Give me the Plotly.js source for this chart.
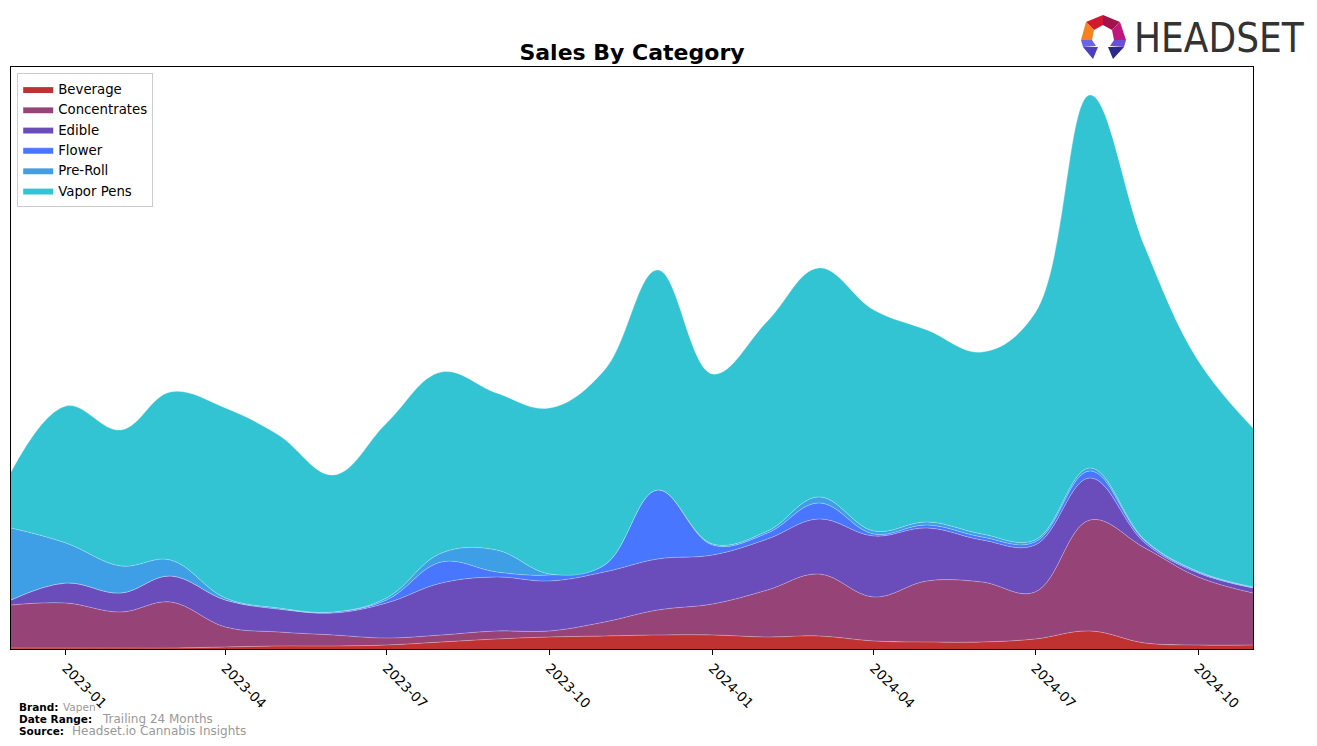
<!DOCTYPE html>
<html>
<head>
<meta charset="utf-8">
<script src="https://cdn.plot.ly/plotly-3.0.1.min.js"></script>
<style>
html,body{margin:0;padding:0;background:#fff;}
#chart{width:1317px;height:746px;}
</style>
</head>
<body>
<div id="chart"></div>
<script>
// Monthly data (relative sales units)
const months = ['2022-12-01','2023-01-01','2023-02-01','2023-03-01','2023-04-01','2023-05-01','2023-06-01','2023-07-01','2023-08-01','2023-09-01','2023-10-01','2023-11-01','2023-12-01','2024-01-01','2024-02-01','2024-03-01','2024-04-01','2024-05-01','2024-06-01','2024-07-01','2024-08-01','2024-09-01','2024-10-01','2024-11-01'];
const beverage     = [1, 1, 1, 1, 2, 3, 3, 4, 7, 10, 12, 13, 14, 14, 12, 13, 8, 7, 7, 10, 18, 6, 4, 4];
const concentrates = [43, 45, 36, 46, 20, 14, 11, 7, 7, 8, 6, 14, 25, 31, 47, 62, 44, 61, 60, 47, 111, 95, 68, 52];
const edible       = [5, 20, 19, 26, 27, 23, 22, 35, 52, 54, 50, 50, 51, 49, 51, 55, 61, 53, 42, 47, 42, 5, 4, 5];
const flower       = [0, 0, 0, 0, 0, 0, 1, 3, 21, 5, 6, 7, 69, 10, 6, 16, 2, 3, 3, 3, 7, 2, 1, 0.5];
const preRoll      = [72, 40, 27, 16, 2, 1, 0, 2, 9, 22, 1, 0, 0, 1, 2, 6, 3, 3, 3, 2, 3, 1, 0.5, 0.5];
const vaporPens    = [56, 137, 136, 168, 190, 173, 137, 175, 181, 157, 166, 195, 220, 170, 210, 229, 221, 192, 182, 227, 373, 293, 211, 159];

const categories = ['Beverage','Concentrates','Edible','Flower','Pre-Roll','Vapor Pens'];
const seriesList = [beverage, concentrates, edible, flower, preRoll, vaporPens];
const colors = ['#C03131','#964378','#6A4DBA','#4876FF','#3E9EE6','#33C4D3'];

const tickVals = ['2023-01-01','2023-04-01','2023-07-01','2023-10-01','2024-01-01','2024-04-01','2024-07-01','2024-10-01'];
const tickText = ['2023-01','2023-04','2023-07','2023-10','2024-01','2024-04','2024-07','2024-10'];

const traces = categories.map((name, i) => ({
  type: 'scatter',
  mode: 'lines',
  name: name,
  x: months,
  y: seriesList[i],
  stackgroup: 'one',
  line: {shape: 'spline', smoothing: 1.1, width: 0.8, color: 'rgba(255,255,255,0.35)'},
  fillcolor: colors[i],
  hoverinfo: 'x+y+name'
}));

// pixel -> paper helper for decorative items (plot area: x 11..1253, y 67..649)
function P(px, py) { return [(px - 11) / 1242, (649 - py) / 582]; }
function pathOf(pts) {
  return 'M ' + pts.map(p => { const q = P(p[0], p[1]); return q[0].toFixed(5) + ',' + q[1].toFixed(5); }).join(' L ') + ' Z';
}
function poly(pts, color) {
  return {type: 'path', xref: 'paper', yref: 'paper', path: pathOf(pts), fillcolor: color, line: {width: 0}, layer: 'above'};
}

const logoShapes = [
  poly([[1086,22],[1103,15],[1103,25],[1094,30]], '#D2192E'),
  poly([[1103,15],[1120,22],[1112,30],[1103,25]], '#A3124A'),
  poly([[1120,22],[1126,40],[1114,40],[1112,30]], '#C0177C'),
  poly([[1086,22],[1094,30],[1092,40],[1081,40]], '#F5821F'),
  poly([[1081,40],[1092,40],[1096,46],[1083,47]], '#6D63E6'),
  poly([[1126,40],[1114,40],[1110,46],[1124,47]], '#6A4FD8'),
  poly([[1083,47],[1098,47],[1093,59]], '#4B3FC0'),
  poly([[1108,47],[1124,47],[1113,59]], '#2B2A8A')
];

function pa(px, py, text, size, color, bold) {
  const q = P(px, py);
  return {xref: 'paper', yref: 'paper', x: q[0], y: q[1], xanchor: 'left', yanchor: 'middle',
    text: bold ? '<b>' + text + '</b>' : text, showarrow: false,
    font: {family: 'DejaVu Sans', size: size, color: color}};
}

const annotations = [
  pa(17, 707, 'Brand:', 10.5, '#000', true),
  pa(61, 707, 'Vapen', 10.5, '#999999', false),
  pa(17, 718.5, 'Date Range:', 10.5, '#000', true),
  pa(100, 718.5, 'Trailing 24 Months', 12, '#999999', false),
  pa(17, 730.5, 'Source:', 10.5, '#000', true),
  pa(70, 730.5, 'Headset.io Cannabis Insights', 12, '#999999', false),
  Object.assign(pa(1132, 38, 'HEADSET', 40, '#333333', false),
    {font: {family: 'DejaVu Sans Condensed, DejaVu Sans, sans-serif', size: 40, color: '#333333'}})
];

const layout = {
  width: 1317, height: 746,
  margin: {l: 11, r: 64, t: 67, b: 97, pad: 0},
  paper_bgcolor: '#ffffff',
  plot_bgcolor: '#ffffff',
  title: {text: '<b>Sales By Category</b>', font: {family: 'DejaVu Sans', size: 22, color: '#000'},
    xref: 'paper', x: 0.5, xanchor: 'center', yref: 'container', y: 1 - 52 / 746, yanchor: 'middle'},
  showlegend: true,
  legend: {x: 0.005, y: 0.99, xanchor: 'left', yanchor: 'top', traceorder: 'normal',
    bgcolor: 'rgba(255,255,255,0.8)', bordercolor: '#cccccc', borderwidth: 1,
    font: {family: 'DejaVu Sans', size: 13.3, color: '#000'}},
  xaxis: {type: 'date', range: ['2022-12-01', '2024-11-01'], tickvals: tickVals, ticktext: tickText,
    tickangle: 45, ticks: 'outside', ticklen: 5, tickcolor: '#000', tickwidth: 1,
    showline: true, linecolor: '#000', linewidth: 1, mirror: true, showgrid: false, zeroline: false,
    tickfont: {family: 'DejaVu Sans', size: 13.5, color: '#000'}},
  yaxis: {range: [0, 582], showticklabels: false, ticks: '', showgrid: false, zeroline: false,
    showline: true, linecolor: '#000', linewidth: 1, mirror: true},
  shapes: logoShapes,
  annotations: annotations
};

Plotly.newPlot('chart', traces, layout, {displayModeBar: false, staticPlot: true});
</script>
</body>
</html>
